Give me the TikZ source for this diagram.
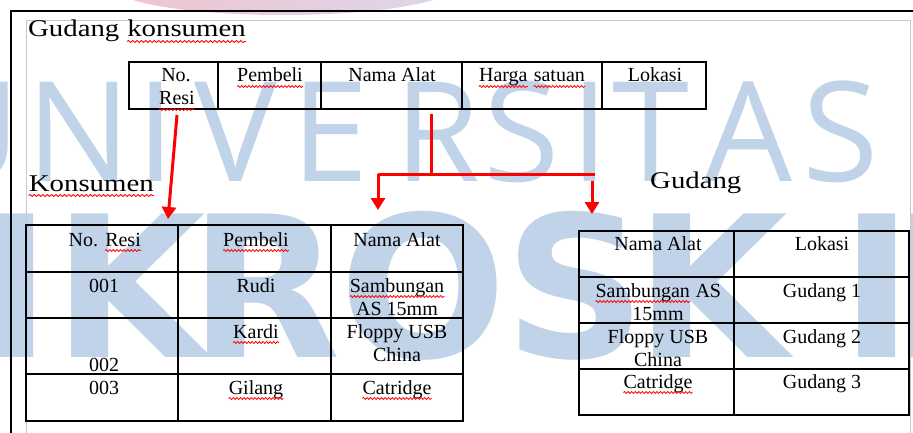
\documentclass[tikz,border=0pt]{standalone}
\usepackage{fontspec}
\setmainfont{Liberation Serif}
\newfontfamily\wmfont{Open Sans}
\newfontfamily\wmheavyfont{DejaVu Sans}
\usetikzlibrary{arrows.meta,decorations.pathmorphing}

% red wavy spelling underline
\newcommand\spell[1]{\tikz[baseline=(sw.base),x=1pt,y=1pt]{%
  \node[inner sep=0pt,anchor=base] (sw) {#1};%
  \draw[red,line width=0.8pt,decorate,decoration={snake,amplitude=1pt,segment length=3.6pt}]
    ([yshift=-4.5pt]sw.base west) -- ([yshift=-4.5pt]sw.base east);}}

\definecolor{wmblue}{RGB}{192,211,232}
\definecolor{arcpink}{RGB}{238,196,208}
\definecolor{arclav}{RGB}{222,214,234}
\definecolor{framegray}{RGB}{200,200,200}

\tikzset{
  wmthin/.style={anchor=base, inner sep=0pt, text=wmblue,
    font=\wmfont\fontsize{139}{139}\selectfont},
  wmheavy/.style={anchor=base, inner sep=0pt, text=wmblue,
    font=\wmheavyfont\bfseries\fontsize{197}{197}\selectfont},
  title/.style={anchor=base west, inner sep=0pt, font=\fontsize{24}{28}\selectfont},
  cell/.style={anchor=base, inner sep=0pt, font=\fontsize{20}{23}\selectfont},
  tbl/.style={line width=1.6pt, black},
  redline/.style={line width=3pt, red},
  redarrow/.style={redline, -{Triangle[length=12pt,width=14pt]}},
}

\begin{document}
\begin{tikzpicture}[x=1pt, y=-1pt]
\useasboundingbox (0,0) rectangle (913,433);
\fill[white] (0,0) rectangle (913,433);

% background logo arc and lettering
\shade[left color=arcpink, right color=arclav] (283,-13.4) ellipse [x radius=170pt, y radius=28.4pt];

\node[wmthin] (wU)  at (-30,182) {U};
\node[wmthin] (wN)  at (79,182)  {N};
\node[wmthin] (wI1) at (156,182) {I};
\node[wmthin] (wV)  at (236,182) {V};
\node[wmthin] (wE)  at (330,182) {E};
\node[wmthin] (wR)  at (437,182) {R};
\node[wmthin] (wS1) at (522,182) {S};
\node[wmthin] (wI2) at (590,182) {I};
\node[wmthin] (wT)  at (651,182) {T};
\node[wmthin] (wA)  at (748,182) {A};
\node[wmthin] (wS2) at (841,182) {S};

\node[wmheavy] (mM)  at (-110,357) {M};
\node[wmheavy] (mI1) at (15,357)  {I};
\node[wmheavy] (mK1) at (130,357) {K};
\node[wmheavy] (mR)  at (265,357) {R};
\node[wmheavy] (mO)  at (423,357) {O};
\node[wmheavy] (mS)  at (575,357) {S};
\node[wmheavy] (mK2) at (712,357) {K};
\node[wmheavy] (mI2) at (877,357) {I};
\node[wmheavy] (mL)  at (955,357) {L};

% page frame
\draw[framegray, line width=0.8pt] (26,433) -- (26,20) -- (910,20) -- (910,433);
\draw[black, line width=1.8pt] (11,433) -- (11,11) -- (913,11);

% titles
\node[title] (tGK) at (28,37)  {\scalebox{1.2}[1]{Gudang \spell{konsumen}}};
\node[title] (tK)  at (28,191) {\scalebox{1.2}[1]{\spell{Konsumen}}};
\node[title] (tG)  at (650,189) {\scalebox{1.2}[1]{Gudang}};

% table: Gudang konsumen
\draw[tbl] (129,62) rectangle (706,109);
\foreach \x in {218,321,462,602} \draw[tbl] (\x,62) -- (\x,109);
\node[cell] (gkNo)    at (176,82)  {No.};
\node[cell] (gkResi)  at (177,105) {\spell{Resi}};
\node[cell] (gkPemb)  at (270,82)  {\spell{Pembeli}};
\node[cell] (gkNama)  at (392,82)  {Nama Alat};
\node[cell] (gkHarga) at (532,82)  {\spell{Harga} \spell{satuan}};
\node[cell] (gkLok)   at (655,82)  {Lokasi};

% table: Konsumen
\draw[tbl] (26,225) rectangle (463,421);
\foreach \y in {272,318,374} \draw[tbl] (26,\y) -- (463,\y);
\foreach \x in {178,331} \draw[tbl] (\x,225) -- (\x,421);
\node[cell] (kNo)    at (105,246) {No. \spell{Resi}};
\node[cell] (kPemb)  at (256,246) {\spell{Pembeli}};
\node[cell] (kNama)  at (397,246) {Nama Alat};
\node[cell] (k001)   at (104,292) {001};
\node[cell] (kRudi)  at (256,292) {Rudi};
\node[cell] (kSamb)  at (397,292) {\spell{Sambungan}};
\node[cell] (kAS)    at (397,315) {AS 15mm};
\node[cell] (kKardi) at (256,338) {\spell{Kardi}};
\node[cell] (kFlop)  at (397,338) {Floppy USB};
\node[cell] (kChina) at (397,361) {China};
\node[cell] (k002)   at (104,371) {002};
\node[cell] (k003)   at (104,394) {003};
\node[cell] (kGil)   at (256,394) {\spell{Gilang}};
\node[cell] (kCat)   at (397,394) {\spell{Catridge}};

% table: Gudang
\draw[tbl] (579,231) rectangle (909,415);
\foreach \y in {277,323,369} \draw[tbl] (579,\y) -- (909,\y);
\draw[tbl] (734,231) -- (734,415);
\node[cell] (gNama)  at (658,250) {Nama Alat};
\node[cell] (gLok)   at (822,250) {Lokasi};
\node[cell] (gSamb)  at (658,297) {\spell{Sambungan} AS};
\node[cell] (g15)    at (658,320) {15mm};
\node[cell] (gG1)    at (822,297) {Gudang 1};
\node[cell] (gFlop)  at (658,343) {Floppy USB};
\node[cell] (gChina) at (658,366) {China};
\node[cell] (gG2)    at (822,343) {Gudang 2};
\node[cell] (gCat)   at (658,388) {\spell{Catridge}};
\node[cell] (gG3)    at (822,388) {Gudang 3};

% key connectors
\coordinate (resiOut) at (177,115);
\coordinate (kResiIn) at (168,219);
\coordinate (alatOut) at (431,114);
\coordinate (split)   at (431,174);
\coordinate (lbend)   at (378,174);
\coordinate (rend)    at (595,174);
\coordinate (kAlatIn) at (378,210);
\coordinate (gStart)  at (592,181);
\coordinate (gAlatIn) at (592,214);

\draw[redarrow] (resiOut) -- (kResiIn);
\draw[redline] (alatOut) -- (split);
\draw[redline] (lbend) -- (rend);
\draw[redarrow] (lbend) -- (kAlatIn);
\draw[redarrow] (gStart) -- (gAlatIn);
\end{tikzpicture}
\end{document}
